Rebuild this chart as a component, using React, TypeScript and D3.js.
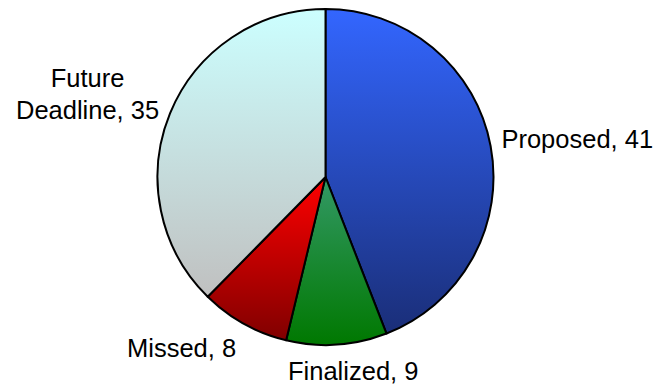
import React from "react";
import * as d3 from "d3";

// Deadline status counts
const categories = ["Proposed", "Finalized", "Missed", "Future Deadline"];
const counts = [41, 9, 8, 35];

// Vertical gradient stops per slice (top colour, bottom colour)
const topColors = ["#3366FF", "#339966", "#FF0000", "#CCFFFF"];
const bottomColors = ["#1A2E78", "#007800", "#800000", "#C0C0C0"];

// Label text lines
const labelLines = [["Proposed, 41"], ["Finalized, 9"], ["Missed, 8"], ["Future", "Deadline, 35"]];

const W = 659;
const H = 388;
const cx = 325.5;
const cy = 177;
const R = 168;
const FONT = 25.5;
const LINE = 32.6;

// Label placement: offset from the point just outside each slice's mid-angle
const labelLayout = [
  { anchor: "start", dx: 1, dy: 3.5 },
  { anchor: "middle", dx: 15.7, dy: 25.4 },
  { anchor: "end", dx: -3, dy: 24.6 },
  { anchor: "middle", dx: -73.2, dy: -22.8 },
];

export default function App() {
  const pie = d3
    .pie<number>()
    .sort(null)
    .value((d) => d)
    .startAngle(0)
    .endAngle(2 * Math.PI);
  const arcs = pie(counts);
  const arc = d3.arc<d3.PieArcDatum<number>>().innerRadius(0).outerRadius(R);

  return (
    <svg
      width={W}
      height={H}
      style={{ position: "absolute", left: 0, top: 0, background: "#fff" }}
      fontFamily="'Liberation Sans', Arial, sans-serif"
      fontSize={FONT}
    >
      <defs>
        {categories.map((c, i) => (
          <linearGradient key={c} id={`grad${i}`} x1="0" y1="0" x2="0" y2="1">
            <stop offset="0" stopColor={topColors[i]} />
            <stop offset="1" stopColor={bottomColors[i]} />
          </linearGradient>
        ))}
      </defs>
      <g transform={`translate(${cx},${cy})`}>
        {arcs.map((a, i) => (
          <path
            key={categories[i]}
            d={arc(a) || ""}
            fill={`url(#grad${i})`}
            stroke="#000"
            strokeWidth={2}
            strokeLinejoin="round"
          />
        ))}
        {arcs.map((a, i) => {
          const mid = (a.startAngle + a.endAngle) / 2;
          const r = R + 10;
          const px = r * Math.sin(mid);
          const py = -r * Math.cos(mid);
          const L = labelLayout[i];
          return (
            <text
              key={`l${i}`}
              x={px + L.dx}
              y={py + L.dy}
              textAnchor={L.anchor}
              fill="#000"
            >
              {labelLines[i].map((t, j) => (
                <tspan key={j} x={px + L.dx} dy={j === 0 ? 0 : LINE}>
                  {t}
                </tspan>
              ))}
            </text>
          );
        })}
      </g>
    </svg>
  );
}
